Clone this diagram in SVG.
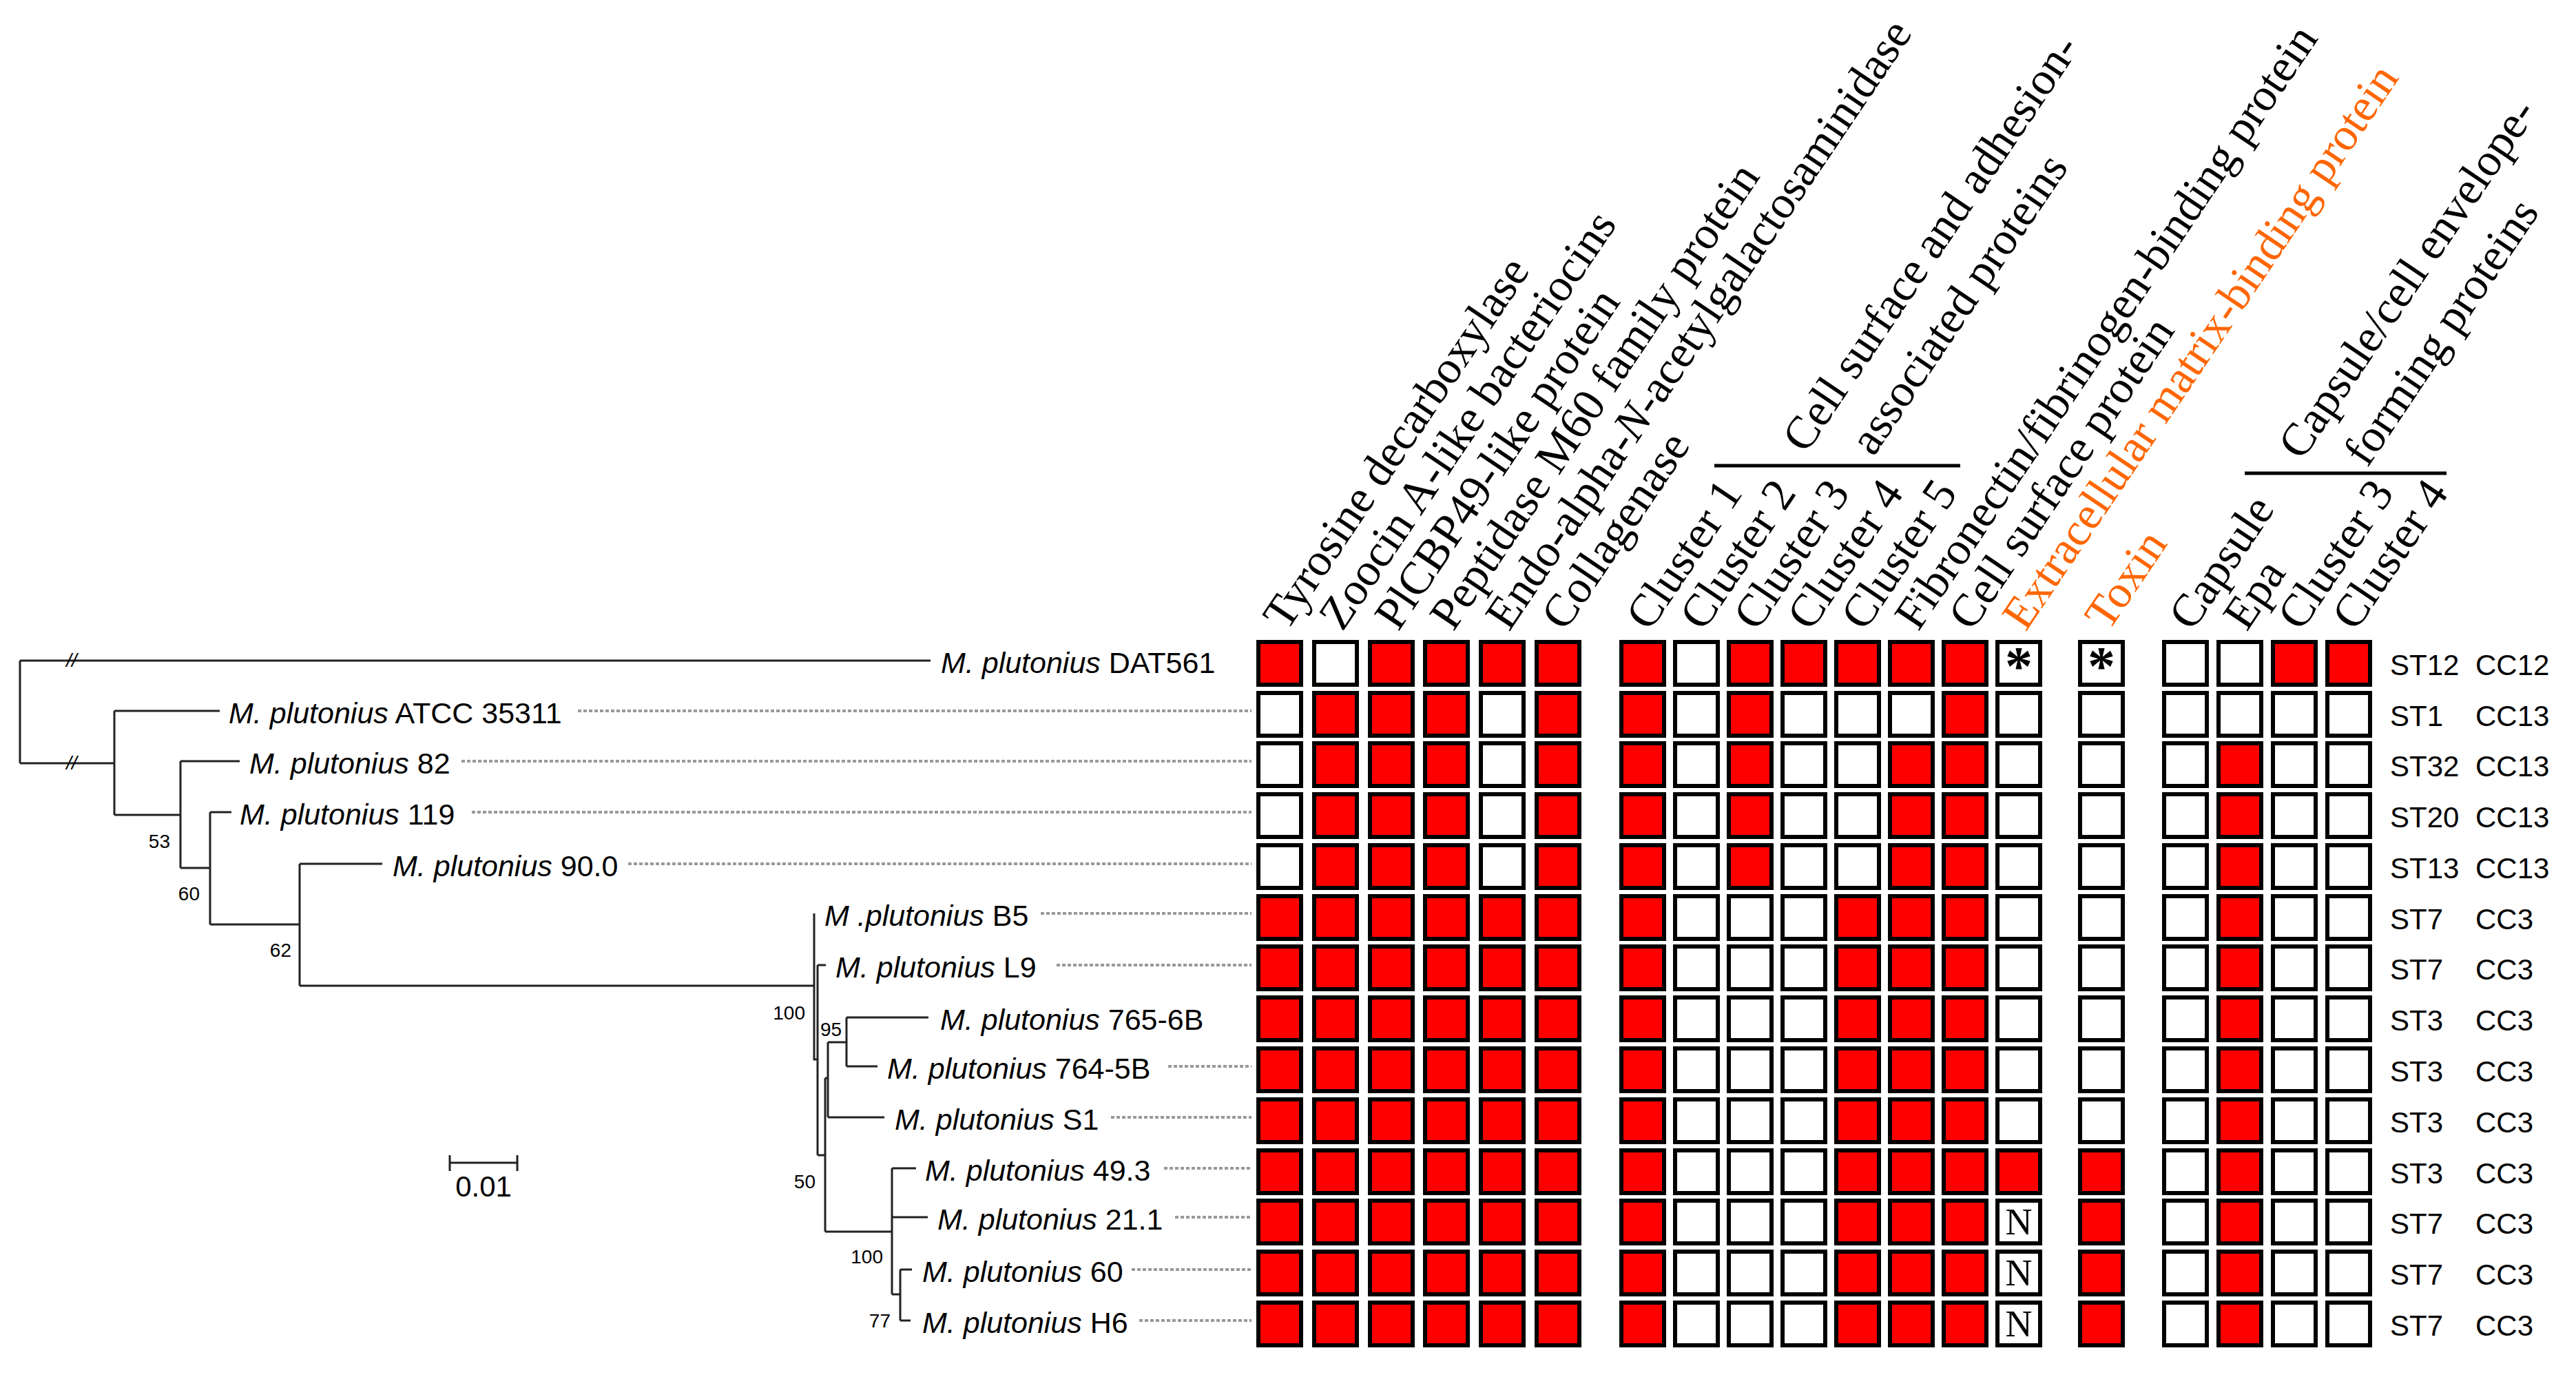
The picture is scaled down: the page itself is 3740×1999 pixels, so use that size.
<svg xmlns="http://www.w3.org/2000/svg" xmlns:xlink="http://www.w3.org/1999/xlink" width="3740" height="1999" viewBox="0 0 3740 1999">
<style>
.tl{font-family:"Liberation Sans",Arial,sans-serif;font-size:43px;fill:#000}
.it{font-style:italic}
.bs{font-family:"Liberation Sans",Arial,sans-serif;font-size:28px;fill:#000}
.st{font-family:"Liberation Sans",Arial,sans-serif;font-size:42px;fill:#000}
.hd{font-family:"Liberation Serif","Times New Roman",serif;font-size:67px;fill:#000}
.or{fill:#FF6600}
.br{fill:none;stroke:#222;stroke-width:3}
.dl{fill:none;stroke:#999;stroke-width:4;stroke-dasharray:5 3}
.bar{stroke:#000;stroke-width:5}
.ast{font-family:"Liberation Serif","Times New Roman",serif;font-size:80px;font-weight:bold;text-anchor:middle}
.nn{font-family:"Liberation Serif","Times New Roman",serif;font-size:54px;text-anchor:middle}
</style>
<defs>
<rect id="R" x="3" y="3" width="62" height="62" fill="#FF0000" stroke="#000" stroke-width="6"/>
<rect id="W" x="3" y="3" width="62" height="62" fill="#FFFFFF" stroke="#000" stroke-width="6"/>
</defs>
<rect width="3740" height="1999" fill="#fff"/>

<g id="connectors">
<path class="br" d="M29,959 V1108 M29,959 H1351 M29,1108 H166 M166,1032 V1183 M166,1032 H319 M166,1183 H262 M262,1105 V1260 M262,1105 H348 M262,1260 H305 M305,1179 V1342 M305,1179 H336 M305,1342 H435 M435,1254 V1431 M435,1254 H555 M435,1431 H1182 M1182,1326 V1538 H1187 M1187,1401 V1677 M1187,1401 H1199 M1187,1677 H1198 M1198,1565 V1788 M1202,1513 V1622 M1198,1565 H1202 M1202,1513 H1229 M1229,1477 V1548 M1229,1477 H1348 M1229,1548 H1274 M1202,1622 H1284 M1198,1788 H1295 M1295,1696 V1879 M1295,1696 H1330 M1295,1767 H1347 M1295,1879 H1307 M1307,1843 V1917 M1307,1843 H1324 M1307,1917 H1322"/>
<text class="bs it" x="104" y="968" text-anchor="middle">//</text>
<text class="bs it" x="104" y="1117" text-anchor="middle">//</text>
<g id="leaders">
<path class="dl" d="M839,1032 H1817 M670,1105 H1817 M685,1179 H1817 M912,1254 H1817 M1511,1326 H1817 M1534,1401 H1817 M1696,1548 H1817 M1613,1622 H1817 M1690,1696 H1817 M1706,1767 H1817 M1643,1843 H1817 M1654,1917 H1817"/>
</g>
</g>

<g id="bootstrap">
<text class="bs" x="247" y="1231" text-anchor="end">53</text>
<text class="bs" x="290" y="1307" text-anchor="end">60</text>
<text class="bs" x="423" y="1389" text-anchor="end">62</text>
<text class="bs" x="1169" y="1480" text-anchor="end">100</text>
<text class="bs" x="1191" y="1504">95</text>
<text class="bs" x="1184" y="1725" text-anchor="end">50</text>
<text class="bs" x="1282" y="1834" text-anchor="end">100</text>
<text class="bs" x="1293" y="1927" text-anchor="end">77</text>
</g>

<g id="scalebar">
<path class="br" d="M653,1688 H751 M653,1677 V1700 M751,1677 V1700"/>
<text class="st" x="702" y="1737" text-anchor="middle" font-size="39">0.01</text>
</g>

<g id="headers">
<text class="hd" transform="translate(1868,918) rotate(-56)">Tyrosine decarboxylase</text>
<text class="hd" transform="translate(1949,918) rotate(-56)">Zoocin A-like bacteriocins</text>
<text class="hd" transform="translate(2030,918) rotate(-56)">PlCBP49-like protein</text>
<text class="hd" transform="translate(2110,918) rotate(-56)">Peptidase M60 family protein</text>
<text class="hd" transform="translate(2191,918) rotate(-56)">Endo-alpha-<tspan font-style="italic">N</tspan>-acetylgalactosaminidase</text>
<text class="hd" transform="translate(2272,918) rotate(-56)">Collagenase</text>
<text class="hd" transform="translate(2395,918) rotate(-56)">Cluster 1</text>
<text class="hd" transform="translate(2473,918) rotate(-56)">Cluster 2</text>
<text class="hd" transform="translate(2551,918) rotate(-56)">Cluster 3</text>
<text class="hd" transform="translate(2629,918) rotate(-56)">Cluster 4</text>
<text class="hd" transform="translate(2707,918) rotate(-56)">Cluster 5</text>
<text class="hd" transform="translate(2785,918) rotate(-56)">Fibronectin/fibrinogen-binding protein</text>
<text class="hd" transform="translate(2863,918) rotate(-56)">Cell surface protein</text>
<text class="hd or" transform="translate(2941,918) rotate(-56)">Extracellular matrix-binding protein</text>
<text class="hd or" transform="translate(3061,918) rotate(-56)">Toxin</text>
<text class="hd" transform="translate(3183,918) rotate(-56)">Capsule</text>
<text class="hd" transform="translate(3262,918) rotate(-56)">Epa</text>
<text class="hd" transform="translate(3341,918) rotate(-56)">Cluster 3</text>
<text class="hd" transform="translate(3420,918) rotate(-56)">Cluster 4</text>
<text class="hd" transform="translate(2622,660) rotate(-56)">Cell surface and adhesion-</text>
<text class="hd" transform="translate(2720,664) rotate(-56)">associated proteins</text>
<line class="bar" x1="2489" y1="676" x2="2846" y2="676"/>
<text class="hd" transform="translate(3342,670) rotate(-56)">Capsule/cell envelope-</text>
<text class="hd" transform="translate(3437,680) rotate(-56)">forming proteins</text>
<line class="bar" x1="3259" y1="687" x2="3552" y2="687"/>
</g>

<g id="row-DAT561">
<text class="tl" x="1366" y="977"><tspan class="it">M. plutonius</tspan> DAT561</text>
<use href="#R" x="1824" y="929"/><use href="#W" x="1905" y="929"/><use href="#R" x="1986" y="929"/><use href="#R" x="2066" y="929"/><use href="#R" x="2147" y="929"/><use href="#R" x="2228" y="929"/>
<use href="#R" x="2351" y="929"/><use href="#W" x="2429" y="929"/><use href="#R" x="2507" y="929"/><use href="#R" x="2585" y="929"/><use href="#R" x="2663" y="929"/><use href="#R" x="2741" y="929"/><use href="#R" x="2819" y="929"/><use href="#W" x="2897" y="929"/>
<use href="#W" x="3017" y="929"/>
<use href="#W" x="3139" y="929"/><use href="#W" x="3218" y="929"/><use href="#R" x="3297" y="929"/><use href="#R" x="3376" y="929"/>
<text class="ast" x="2931" y="994">*</text><text class="ast" x="3051" y="994">*</text>
<text class="st" x="3470" y="980">ST12</text><text class="st" x="3594" y="980">CC12</text>
</g>

<g id="row-ATCC35311">
<text class="tl" x="332" y="1050"><tspan class="it">M. plutonius</tspan> ATCC 35311</text>
<use href="#W" x="1824" y="1003"/><use href="#R" x="1905" y="1003"/><use href="#R" x="1986" y="1003"/><use href="#R" x="2066" y="1003"/><use href="#W" x="2147" y="1003"/><use href="#R" x="2228" y="1003"/>
<use href="#R" x="2351" y="1003"/><use href="#W" x="2429" y="1003"/><use href="#R" x="2507" y="1003"/><use href="#W" x="2585" y="1003"/><use href="#W" x="2663" y="1003"/><use href="#W" x="2741" y="1003"/><use href="#R" x="2819" y="1003"/><use href="#W" x="2897" y="1003"/>
<use href="#W" x="3017" y="1003"/>
<use href="#W" x="3139" y="1003"/><use href="#W" x="3218" y="1003"/><use href="#W" x="3297" y="1003"/><use href="#W" x="3376" y="1003"/>
<text class="st" x="3470" y="1054">ST1</text><text class="st" x="3594" y="1054">CC13</text>
</g>

<g id="row-82">
<text class="tl" x="362" y="1123"><tspan class="it">M. plutonius</tspan> 82</text>
<use href="#W" x="1824" y="1076"/><use href="#R" x="1905" y="1076"/><use href="#R" x="1986" y="1076"/><use href="#R" x="2066" y="1076"/><use href="#W" x="2147" y="1076"/><use href="#R" x="2228" y="1076"/>
<use href="#R" x="2351" y="1076"/><use href="#W" x="2429" y="1076"/><use href="#R" x="2507" y="1076"/><use href="#W" x="2585" y="1076"/><use href="#W" x="2663" y="1076"/><use href="#R" x="2741" y="1076"/><use href="#R" x="2819" y="1076"/><use href="#W" x="2897" y="1076"/>
<use href="#W" x="3017" y="1076"/>
<use href="#W" x="3139" y="1076"/><use href="#R" x="3218" y="1076"/><use href="#W" x="3297" y="1076"/><use href="#W" x="3376" y="1076"/>
<text class="st" x="3470" y="1127">ST32</text><text class="st" x="3594" y="1127">CC13</text>
</g>

<g id="row-119">
<text class="tl" x="348" y="1197"><tspan class="it">M. plutonius</tspan> 119</text>
<use href="#W" x="1824" y="1150"/><use href="#R" x="1905" y="1150"/><use href="#R" x="1986" y="1150"/><use href="#R" x="2066" y="1150"/><use href="#W" x="2147" y="1150"/><use href="#R" x="2228" y="1150"/>
<use href="#R" x="2351" y="1150"/><use href="#W" x="2429" y="1150"/><use href="#R" x="2507" y="1150"/><use href="#W" x="2585" y="1150"/><use href="#W" x="2663" y="1150"/><use href="#R" x="2741" y="1150"/><use href="#R" x="2819" y="1150"/><use href="#W" x="2897" y="1150"/>
<use href="#W" x="3017" y="1150"/>
<use href="#W" x="3139" y="1150"/><use href="#R" x="3218" y="1150"/><use href="#W" x="3297" y="1150"/><use href="#W" x="3376" y="1150"/>
<text class="st" x="3470" y="1201">ST20</text><text class="st" x="3594" y="1201">CC13</text>
</g>

<g id="row-90.0">
<text class="tl" x="570" y="1272"><tspan class="it">M. plutonius</tspan> 90.0</text>
<use href="#W" x="1824" y="1224"/><use href="#R" x="1905" y="1224"/><use href="#R" x="1986" y="1224"/><use href="#R" x="2066" y="1224"/><use href="#W" x="2147" y="1224"/><use href="#R" x="2228" y="1224"/>
<use href="#R" x="2351" y="1224"/><use href="#W" x="2429" y="1224"/><use href="#R" x="2507" y="1224"/><use href="#W" x="2585" y="1224"/><use href="#W" x="2663" y="1224"/><use href="#R" x="2741" y="1224"/><use href="#R" x="2819" y="1224"/><use href="#W" x="2897" y="1224"/>
<use href="#W" x="3017" y="1224"/>
<use href="#W" x="3139" y="1224"/><use href="#R" x="3218" y="1224"/><use href="#W" x="3297" y="1224"/><use href="#W" x="3376" y="1224"/>
<text class="st" x="3470" y="1275">ST13</text><text class="st" x="3594" y="1275">CC13</text>
</g>

<g id="row-B5">
<text class="tl" x="1197" y="1344"><tspan class="it">M .plutonius</tspan> B5</text>
<use href="#R" x="1824" y="1298"/><use href="#R" x="1905" y="1298"/><use href="#R" x="1986" y="1298"/><use href="#R" x="2066" y="1298"/><use href="#R" x="2147" y="1298"/><use href="#R" x="2228" y="1298"/>
<use href="#R" x="2351" y="1298"/><use href="#W" x="2429" y="1298"/><use href="#W" x="2507" y="1298"/><use href="#W" x="2585" y="1298"/><use href="#R" x="2663" y="1298"/><use href="#R" x="2741" y="1298"/><use href="#R" x="2819" y="1298"/><use href="#W" x="2897" y="1298"/>
<use href="#W" x="3017" y="1298"/>
<use href="#W" x="3139" y="1298"/><use href="#R" x="3218" y="1298"/><use href="#W" x="3297" y="1298"/><use href="#W" x="3376" y="1298"/>
<text class="st" x="3470" y="1349">ST7</text><text class="st" x="3594" y="1349">CC3</text>
</g>

<g id="row-L9">
<text class="tl" x="1213" y="1419"><tspan class="it">M. plutonius</tspan> L9</text>
<use href="#R" x="1824" y="1371"/><use href="#R" x="1905" y="1371"/><use href="#R" x="1986" y="1371"/><use href="#R" x="2066" y="1371"/><use href="#R" x="2147" y="1371"/><use href="#R" x="2228" y="1371"/>
<use href="#R" x="2351" y="1371"/><use href="#W" x="2429" y="1371"/><use href="#W" x="2507" y="1371"/><use href="#W" x="2585" y="1371"/><use href="#R" x="2663" y="1371"/><use href="#R" x="2741" y="1371"/><use href="#R" x="2819" y="1371"/><use href="#W" x="2897" y="1371"/>
<use href="#W" x="3017" y="1371"/>
<use href="#W" x="3139" y="1371"/><use href="#R" x="3218" y="1371"/><use href="#W" x="3297" y="1371"/><use href="#W" x="3376" y="1371"/>
<text class="st" x="3470" y="1422">ST7</text><text class="st" x="3594" y="1422">CC3</text>
</g>

<g id="row-765-6B">
<text class="tl" x="1365" y="1495"><tspan class="it">M. plutonius</tspan> 765-6B</text>
<use href="#R" x="1824" y="1445"/><use href="#R" x="1905" y="1445"/><use href="#R" x="1986" y="1445"/><use href="#R" x="2066" y="1445"/><use href="#R" x="2147" y="1445"/><use href="#R" x="2228" y="1445"/>
<use href="#R" x="2351" y="1445"/><use href="#W" x="2429" y="1445"/><use href="#W" x="2507" y="1445"/><use href="#W" x="2585" y="1445"/><use href="#R" x="2663" y="1445"/><use href="#R" x="2741" y="1445"/><use href="#R" x="2819" y="1445"/><use href="#W" x="2897" y="1445"/>
<use href="#W" x="3017" y="1445"/>
<use href="#W" x="3139" y="1445"/><use href="#R" x="3218" y="1445"/><use href="#W" x="3297" y="1445"/><use href="#W" x="3376" y="1445"/>
<text class="st" x="3470" y="1496">ST3</text><text class="st" x="3594" y="1496">CC3</text>
</g>

<g id="row-764-5B">
<text class="tl" x="1288" y="1566"><tspan class="it">M. plutonius</tspan> 764-5B</text>
<use href="#R" x="1824" y="1519"/><use href="#R" x="1905" y="1519"/><use href="#R" x="1986" y="1519"/><use href="#R" x="2066" y="1519"/><use href="#R" x="2147" y="1519"/><use href="#R" x="2228" y="1519"/>
<use href="#R" x="2351" y="1519"/><use href="#W" x="2429" y="1519"/><use href="#W" x="2507" y="1519"/><use href="#W" x="2585" y="1519"/><use href="#R" x="2663" y="1519"/><use href="#R" x="2741" y="1519"/><use href="#R" x="2819" y="1519"/><use href="#W" x="2897" y="1519"/>
<use href="#W" x="3017" y="1519"/>
<use href="#W" x="3139" y="1519"/><use href="#R" x="3218" y="1519"/><use href="#W" x="3297" y="1519"/><use href="#W" x="3376" y="1519"/>
<text class="st" x="3470" y="1570">ST3</text><text class="st" x="3594" y="1570">CC3</text>
</g>

<g id="row-S1">
<text class="tl" x="1299" y="1640"><tspan class="it">M. plutonius</tspan> S1</text>
<use href="#R" x="1824" y="1593"/><use href="#R" x="1905" y="1593"/><use href="#R" x="1986" y="1593"/><use href="#R" x="2066" y="1593"/><use href="#R" x="2147" y="1593"/><use href="#R" x="2228" y="1593"/>
<use href="#R" x="2351" y="1593"/><use href="#W" x="2429" y="1593"/><use href="#W" x="2507" y="1593"/><use href="#W" x="2585" y="1593"/><use href="#R" x="2663" y="1593"/><use href="#R" x="2741" y="1593"/><use href="#R" x="2819" y="1593"/><use href="#W" x="2897" y="1593"/>
<use href="#W" x="3017" y="1593"/>
<use href="#W" x="3139" y="1593"/><use href="#R" x="3218" y="1593"/><use href="#W" x="3297" y="1593"/><use href="#W" x="3376" y="1593"/>
<text class="st" x="3470" y="1644">ST3</text><text class="st" x="3594" y="1644">CC3</text>
</g>

<g id="row-49.3">
<text class="tl" x="1343" y="1714"><tspan class="it">M. plutonius</tspan> 49.3</text>
<use href="#R" x="1824" y="1667"/><use href="#R" x="1905" y="1667"/><use href="#R" x="1986" y="1667"/><use href="#R" x="2066" y="1667"/><use href="#R" x="2147" y="1667"/><use href="#R" x="2228" y="1667"/>
<use href="#R" x="2351" y="1667"/><use href="#W" x="2429" y="1667"/><use href="#W" x="2507" y="1667"/><use href="#W" x="2585" y="1667"/><use href="#R" x="2663" y="1667"/><use href="#R" x="2741" y="1667"/><use href="#R" x="2819" y="1667"/><use href="#R" x="2897" y="1667"/>
<use href="#R" x="3017" y="1667"/>
<use href="#W" x="3139" y="1667"/><use href="#R" x="3218" y="1667"/><use href="#W" x="3297" y="1667"/><use href="#W" x="3376" y="1667"/>
<text class="st" x="3470" y="1718">ST3</text><text class="st" x="3594" y="1718">CC3</text>
</g>

<g id="row-21.1">
<text class="tl" x="1361" y="1785"><tspan class="it">M. plutonius</tspan> 21.1</text>
<use href="#R" x="1824" y="1740"/><use href="#R" x="1905" y="1740"/><use href="#R" x="1986" y="1740"/><use href="#R" x="2066" y="1740"/><use href="#R" x="2147" y="1740"/><use href="#R" x="2228" y="1740"/>
<use href="#R" x="2351" y="1740"/><use href="#W" x="2429" y="1740"/><use href="#W" x="2507" y="1740"/><use href="#W" x="2585" y="1740"/><use href="#R" x="2663" y="1740"/><use href="#R" x="2741" y="1740"/><use href="#R" x="2819" y="1740"/><use href="#W" x="2897" y="1740"/>
<use href="#R" x="3017" y="1740"/>
<use href="#W" x="3139" y="1740"/><use href="#R" x="3218" y="1740"/><use href="#W" x="3297" y="1740"/><use href="#W" x="3376" y="1740"/>
<text class="nn" x="2931" y="1792">N</text>
<text class="st" x="3470" y="1791">ST7</text><text class="st" x="3594" y="1791">CC3</text>
</g>

<g id="row-60">
<text class="tl" x="1339" y="1861"><tspan class="it">M. plutonius</tspan> 60</text>
<use href="#R" x="1824" y="1814"/><use href="#R" x="1905" y="1814"/><use href="#R" x="1986" y="1814"/><use href="#R" x="2066" y="1814"/><use href="#R" x="2147" y="1814"/><use href="#R" x="2228" y="1814"/>
<use href="#R" x="2351" y="1814"/><use href="#W" x="2429" y="1814"/><use href="#W" x="2507" y="1814"/><use href="#W" x="2585" y="1814"/><use href="#R" x="2663" y="1814"/><use href="#R" x="2741" y="1814"/><use href="#R" x="2819" y="1814"/><use href="#W" x="2897" y="1814"/>
<use href="#R" x="3017" y="1814"/>
<use href="#W" x="3139" y="1814"/><use href="#R" x="3218" y="1814"/><use href="#W" x="3297" y="1814"/><use href="#W" x="3376" y="1814"/>
<text class="nn" x="2931" y="1866">N</text>
<text class="st" x="3470" y="1865">ST7</text><text class="st" x="3594" y="1865">CC3</text>
</g>

<g id="row-H6">
<text class="tl" x="1339" y="1935"><tspan class="it">M. plutonius</tspan> H6</text>
<use href="#R" x="1824" y="1888"/><use href="#R" x="1905" y="1888"/><use href="#R" x="1986" y="1888"/><use href="#R" x="2066" y="1888"/><use href="#R" x="2147" y="1888"/><use href="#R" x="2228" y="1888"/>
<use href="#R" x="2351" y="1888"/><use href="#W" x="2429" y="1888"/><use href="#W" x="2507" y="1888"/><use href="#W" x="2585" y="1888"/><use href="#R" x="2663" y="1888"/><use href="#R" x="2741" y="1888"/><use href="#R" x="2819" y="1888"/><use href="#W" x="2897" y="1888"/>
<use href="#R" x="3017" y="1888"/>
<use href="#W" x="3139" y="1888"/><use href="#R" x="3218" y="1888"/><use href="#W" x="3297" y="1888"/><use href="#W" x="3376" y="1888"/>
<text class="nn" x="2931" y="1940">N</text>
<text class="st" x="3470" y="1939">ST7</text><text class="st" x="3594" y="1939">CC3</text>
</g>
</svg>
